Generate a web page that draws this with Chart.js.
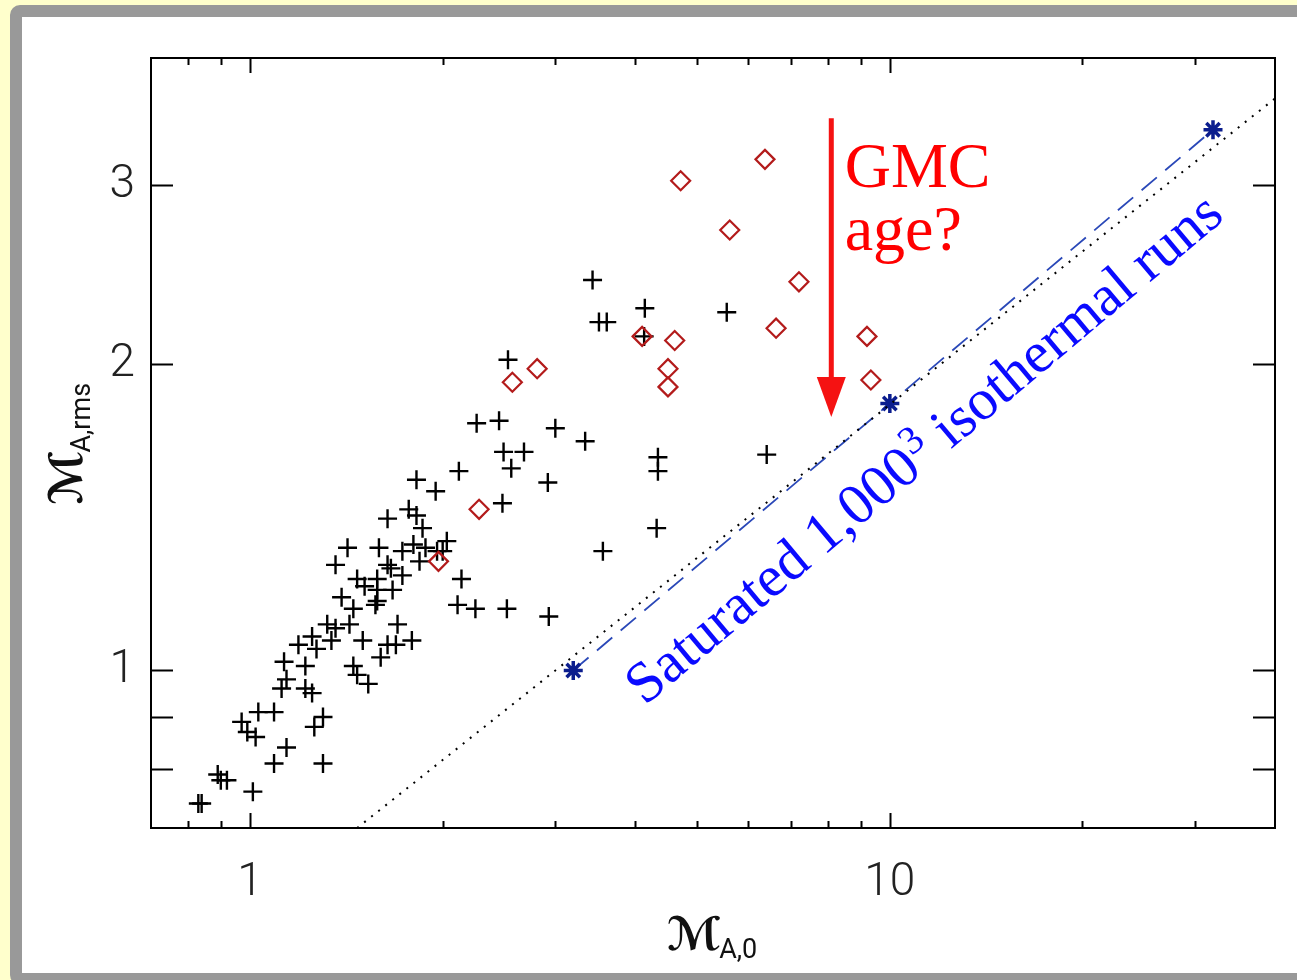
<!DOCTYPE html>
<html>
<head>
<meta charset="utf-8">
<script src="https://cdn.jsdelivr.net/npm/chart.js@4/dist/chart.umd.min.js"></script>
<style>
  html, body { margin: 0; padding: 0; background: #ffffcc; overflow: hidden; }
  #panel { position: absolute; left: 10px; top: 5px; width: 1400px; height: 980px;
           border: 12px solid #999; border-radius: 10px; background: #fff; box-sizing: border-box; }
  #wrap { position: absolute; left: 0; top: 0; width: 1297px; height: 980px; }
</style>
</head>
<body>
<div id="panel"></div>
<div id="wrap"><canvas id="chart" width="1297" height="980"></canvas></div>
<script>
/* ---------- data ---------- */
// black crosses: M_A,0 vs M_A,rms
const crossX = [3.43, 4.14, 3.51, 3.61, 4.13, 5.56, 2.53, 2.26, 2.45, 3.00, 3.34, 2.49, 2.68, 2.56, 2.12,
  2.92, 4.34, 4.34, 6.42, 2.48, 4.32, 3.56, 2.03, 2.00, 2.14, 2.11, 2.25, 2.52, 2.93,
  1.82, 1.95, 1.77, 1.82, 1.86, 1.64, 1.42, 1.59, 1.36, 1.73, 1.80, 1.88, 1.96, 1.84, 1.64,
  1.66, 1.73, 1.47, 1.51, 1.58, 1.58, 1.67, 1.39, 1.58, 1.45, 1.57, 1.32, 1.36, 1.43, 1.70,
  1.79, 1.50, 1.64, 1.69, 1.60, 1.19, 1.25, 1.27, 1.34, 1.13, 1.22, 1.45, 1.47, 1.53, 1.14,
  1.12, 1.22, 1.25, 1.09, 1.03, 0.97, 0.99, 1.02, 1.30, 1.26, 1.14, 1.09, 1.30, 0.89, 0.90,
  0.92, 1.01, 0.83, 0.84];
const crossY = [2.42, 2.27, 2.20, 2.20, 2.13, 2.25, 2.02, 1.75, 1.76, 1.73, 1.68, 1.64, 1.64, 1.58, 1.57,
  1.53, 1.62, 1.57, 1.63, 1.46, 1.38, 1.31, 1.34, 1.31, 1.23, 1.16, 1.15, 1.15, 1.13,
  1.54, 1.50, 1.44, 1.42, 1.38, 1.41, 1.32, 1.32, 1.27, 1.31, 1.33, 1.32, 1.31, 1.28, 1.27,
  1.26, 1.24, 1.23, 1.21, 1.23, 1.20, 1.20, 1.18, 1.17, 1.15, 1.16, 1.11, 1.10, 1.11, 1.11,
  1.07, 1.07, 1.06, 1.06, 1.03, 1.06, 1.08, 1.05, 1.07, 1.02, 1.01, 1.01, 0.99, 0.97, 0.98,
  0.96, 0.96, 0.95, 0.91, 0.91, 0.89, 0.87, 0.86, 0.90, 0.88, 0.84, 0.81, 0.81, 0.79, 0.78,
  0.78, 0.76, 0.74, 0.74];

// red diamonds
const diamondX = [4.71, 6.38, 5.62, 7.21, 6.64, 9.21, 9.34, 4.10, 4.61, 4.50, 4.50, 2.57, 2.81, 2.28, 1.97];
const diamondY = [3.03, 3.18, 2.71, 2.41, 2.17, 2.13, 1.93, 2.13, 2.11, 1.98, 1.90, 1.92, 1.98, 1.44, 1.28];

// saturated 1000^3 isothermal runs (blue stars, dashed)
const satX = [3.2, 10, 32];
const satY = [1.0, 1.83, 3.40];

// dotted reference line (end points)
const refX = [1.47, 40];
const refY = [0.70, 3.65];

// ticks
const xTicks = [0.8, 0.9, 1, 2, 3, 4, 5, 6, 7, 8, 9, 10, 20, 30];
const xLabelled = [1, 10];
const yTicks = [0.8, 0.9, 1, 2, 3];
const yLabelled = [1, 2, 3];

// annotation anchors (data units)
const arrowX = 8.1, arrowTop = 3.49, arrowTip = 1.775;
const gmcX = 8.5, gmcLines = ['GMC', 'age?'], gmcY = [2.99, 2.59];
const satLabelX = 4.14, satLabelY = 0.922;
const satLabel = ['Saturated 1,000', '3', ' isothermal runs'];

/* ---------- helpers ---------- */
const pts = (xs, ys) => xs.map((v, i) => ({ x: v, y: ys[i] }));

const frameTicks = {
  id: 'frameTicks',
  afterDatasetsDraw(chart) {
    const { ctx, chartArea: a, scales: { x, y } } = chart;
    ctx.save();
    ctx.strokeStyle = '#000';
    ctx.lineWidth = 2;
    ctx.strokeRect(a.left, a.top, a.right - a.left, a.bottom - a.top);
    ctx.beginPath();
    x.ticks.forEach(t => {
      const px = Math.round(x.getPixelForValue(t.value)) + 0.5;
      const len = xLabelled.includes(t.value) ? 15 : 7;
      ctx.moveTo(px, a.bottom); ctx.lineTo(px, a.bottom - len);
      ctx.moveTo(px, a.top); ctx.lineTo(px, a.top + len);
    });
    y.ticks.forEach(t => {
      const py = Math.round(y.getPixelForValue(t.value)) + 0.5;
      ctx.moveTo(a.left, py); ctx.lineTo(a.left + 22, py);
      ctx.moveTo(a.right, py); ctx.lineTo(a.right - 22, py);
    });
    ctx.stroke();
    ctx.restore();
  }
};

const notes = {
  id: 'notes',
  afterDraw(chart) {
    const { ctx, chartArea: a, scales: { x, y } } = chart;
    ctx.save();

    // red arrow
    const ax = x.getPixelForValue(arrowX);
    const ay0 = y.getPixelForValue(arrowTop);
    const ay1 = y.getPixelForValue(arrowTip);
    ctx.strokeStyle = '#f51212';
    ctx.fillStyle = '#f51212';
    ctx.lineWidth = 5;
    ctx.beginPath(); ctx.moveTo(ax, ay0); ctx.lineTo(ax, ay1 - 36); ctx.stroke();
    ctx.beginPath();
    ctx.moveTo(ax - 14.5, ay1 - 40); ctx.lineTo(ax + 14.5, ay1 - 40); ctx.lineTo(ax, ay1);
    ctx.closePath(); ctx.fill();

    // GMC age?
    ctx.fillStyle = '#ff0000';
    ctx.font = '64px "Liberation Serif", "Times New Roman", serif';
    ctx.textBaseline = 'alphabetic';
    ctx.textAlign = 'left';
    gmcLines.forEach((s, i) => ctx.fillText(s, x.getPixelForValue(gmcX), y.getPixelForValue(gmcY[i])));

    // rotated blue label
    ctx.save();
    ctx.translate(x.getPixelForValue(satLabelX), y.getPixelForValue(satLabelY));
    ctx.rotate(-40 * Math.PI / 180);
    ctx.fillStyle = '#0a0aff';
    let cx = 0;
    ctx.font = '58px "Liberation Serif", serif';
    ctx.fillText(satLabel[0], cx, 0); cx += ctx.measureText(satLabel[0]).width;
    ctx.font = '40px "Liberation Serif", serif';
    ctx.fillText(satLabel[1], cx + 1, -20); cx += ctx.measureText(satLabel[1]).width + 1;
    ctx.font = '58px "Liberation Serif", serif';
    ctx.fillText(satLabel[2], cx, 0);
    ctx.restore();

    // axis titles with subscripts
    const title = (main, sub, cxp, cyp, rot) => {
      ctx.save();
      ctx.translate(cxp, cyp);
      ctx.rotate(rot);
      ctx.fillStyle = '#111';
      const mainFont = 'bold 46px "DejaVu Sans", sans-serif';
      const subFont = '27px Roboto, "Liberation Sans", sans-serif';
      ctx.font = mainFont;
      const w1 = ctx.measureText(main).width;
      ctx.font = subFont;
      const w2 = ctx.measureText(sub).width;
      const start = -(w1 + w2) / 2;
      ctx.font = mainFont;
      ctx.fillText(main, start, 0);
      ctx.font = subFont;
      ctx.fillText(sub, start + w1 - 2, 8);
      ctx.restore();
    };
    title('\u2133', 'A,0', (a.left + a.right) / 2, 950, 0);
    title('\u2133', 'A,rms', 82, (a.top + a.bottom) / 2, -Math.PI / 2);

    ctx.restore();
  }
};

/* ---------- chart ---------- */
const ctx = document.getElementById('chart').getContext('2d');
const chart = new Chart(ctx, {
  type: 'scatter',
  data: {
    datasets: [
      {
        label: 'reference',
        data: pts(refX, refY),
        showLine: true,
        borderColor: '#000',
        borderWidth: 2,
        borderDash: [2, 7],
        pointRadius: 0
      },
      {
        label: 'saturated runs',
        data: pts(satX, satY),
        showLine: true,
        borderColor: '#2a48b8',
        borderWidth: 1.8,
        borderDash: [20, 11],
        pointStyle: 'star',
        pointRadius: 9.5,
        pointBorderWidth: 3.5,
        pointBorderColor: '#0b1d8e',
        pointBackgroundColor: '#0b1d8e'
      },
      {
        label: 'diamonds',
        data: pts(diamondX, diamondY),
        pointStyle: 'rectRot',
        pointRadius: 9.5,
        pointBorderWidth: 2.2,
        borderColor: '#b31b1b',
        backgroundColor: 'rgba(0,0,0,0)'
      },
      {
        label: 'crosses',
        data: pts(crossX, crossY),
        pointStyle: 'cross',
        pointRadius: 9.5,
        pointBorderWidth: 2.4,
        borderColor: '#000',
        backgroundColor: '#000'
      }
    ]
  },
  options: {
    responsive: false,
    animation: false,
    devicePixelRatio: 1,
    layout: { padding: { left: 0, top: 58, right: 22, bottom: 0 } },
    plugins: { legend: { display: false }, tooltip: { enabled: false } },
    elements: { line: { tension: 0 } },
    scales: {
      x: {
        type: 'logarithmic',
        min: 0.7, max: 40,
        afterBuildTicks: s => { s.ticks = xTicks.map(v => ({ value: v })); },
        afterFit: s => { s.height = 152; },
        grid: { display: false, drawTicks: false },
        border: { display: false },
        ticks: {
          autoSkip: false, maxRotation: 0, padding: 28,
          color: '#222',
          font: { family: 'Roboto, "Liberation Sans", sans-serif', size: 46, weight: '300' },
          callback: v => xLabelled.includes(v) ? String(v) : ''
        }
      },
      y: {
        type: 'logarithmic',
        min: 0.7, max: 4,
        afterBuildTicks: s => { s.ticks = yTicks.map(v => ({ value: v })); },
        afterFit: s => { s.width = 151; },
        grid: { display: false, drawTicks: false },
        border: { display: false },
        ticks: {
          autoSkip: false, padding: 16,
          color: '#222',
          font: { family: 'Roboto, "Liberation Sans", sans-serif', size: 46, weight: '300' },
          callback: v => yLabelled.includes(v) ? String(v) : ''
        }
      }
    }
  },
  plugins: [frameTicks, notes]
});
</script>
</body>
</html>
